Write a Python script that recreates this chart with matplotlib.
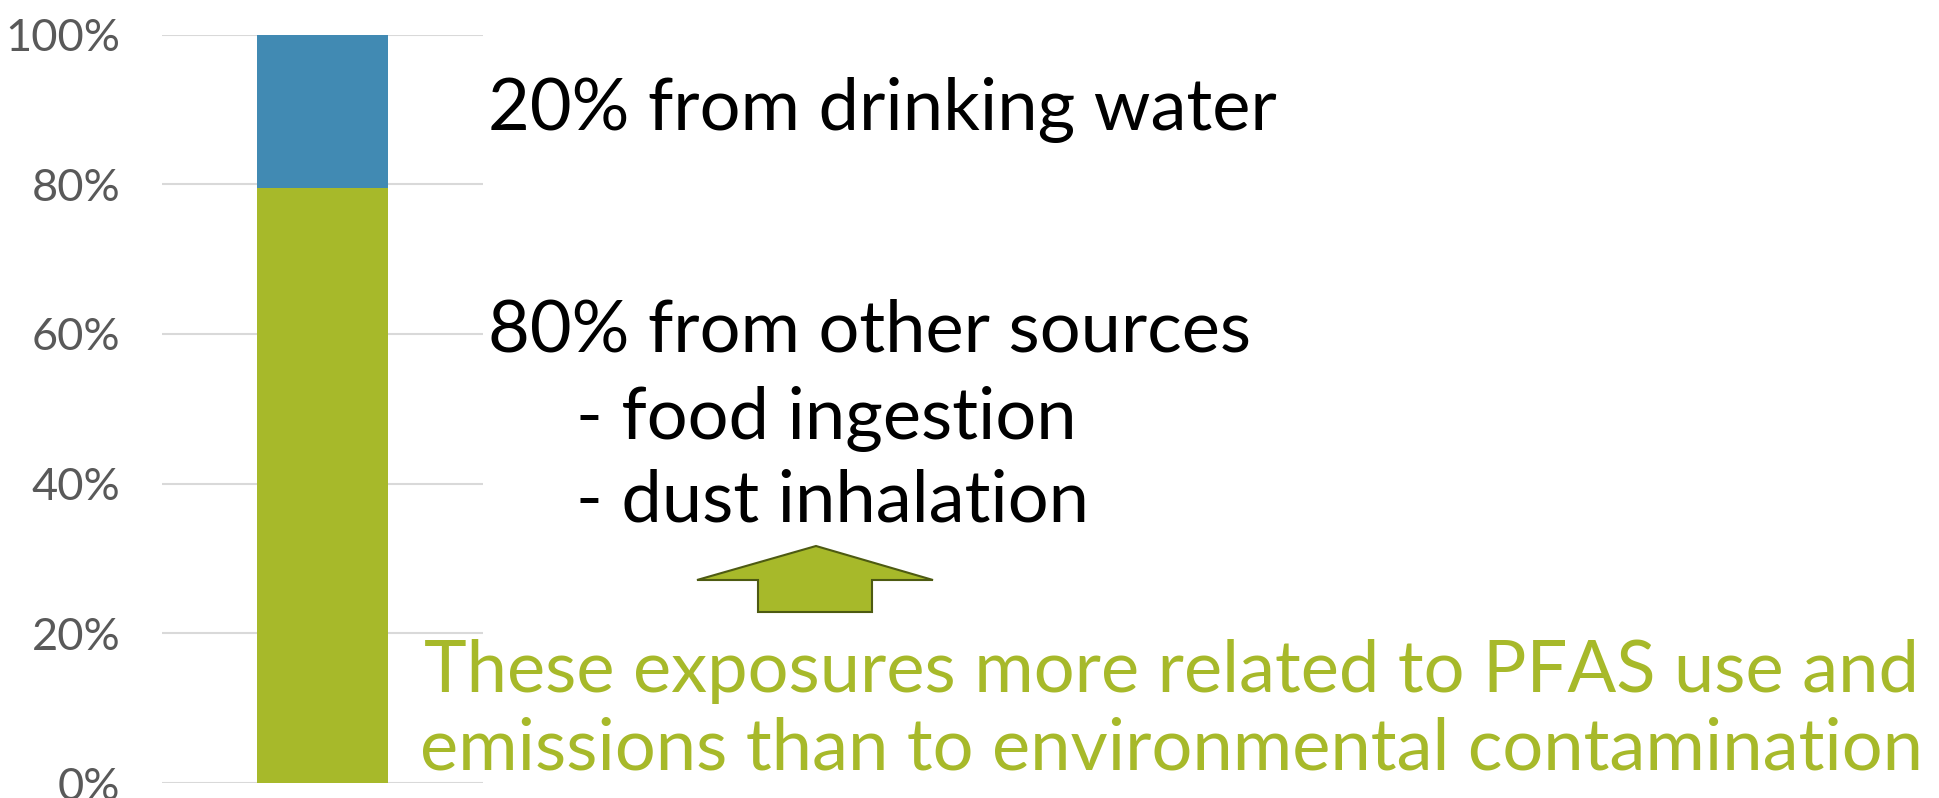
import matplotlib
matplotlib.use("Agg")
import matplotlib.pyplot as plt
from matplotlib.patches import Polygon
from matplotlib.ticker import PercentFormatter

# data
category = [""]
other_sources = [79.5]
drinking_water = [20.5]
yticks = [0, 20, 40, 60, 80, 100]

green = "#a7b92a"
blue = "#418ab3"

plt.rcParams["font.family"] = ["Lato", "DejaVu Sans"]

W, H = 1939, 798
fig = plt.figure(figsize=(W / 100, H / 100), dpi=100)
ax = fig.add_axes([162 / W, 1 - 783 / H, (483 - 162) / W, (783 - 34.6) / H])

ax.bar(category, other_sources, width=0.405, color=green, zorder=3)
ax.bar(category, drinking_water, bottom=other_sources, width=0.405, color=blue, zorder=3)

ax.set_xlim(-0.5, 0.5)
ax.set_ylim(0, 100)
ax.set_yticks(yticks)
ax.yaxis.set_major_formatter(PercentFormatter(decimals=0))
ax.tick_params(axis="y", length=0, pad=30, labelsize=32.5, labelcolor="#595959")
ax.set_xticks([])
ax.grid(axis="y", color="#d9d9d9", linewidth=1.5, zorder=0)
for s in ax.spines.values():
    s.set_visible(False)

# annotations (figure pixel positions -> fractions)
def fx(px):
    return px / W

def fy(py):
    return 1 - py / H

fs = 52
fig.text(fx(488), fy(130), "20% from drinking water", fontsize=fs, color="black", va="baseline")
fig.text(fx(488), fy(352), "80% from other sources", fontsize=fs, color="black", va="baseline")
fig.text(fx(576), fy(439), "- food ingestion", fontsize=fs, color="black", va="baseline")
fig.text(fx(576), fy(522), "- dust inhalation", fontsize=fs, color="black", va="baseline")
fig.text(fx(424), fy(692), "These exposures more related to PFAS use and", fontsize=fs, color=green, va="baseline")
fig.text(fx(420), fy(769), "emissions than to environmental contamination", fontsize=fs, color=green, va="baseline")

# block arrow pointing up
arrow_px = [(816, 546), (933, 580), (872, 580), (872, 612), (758, 612), (758, 580), (697, 580)]
arrow = Polygon([(fx(x), fy(y)) for x, y in arrow_px], closed=True, transform=fig.transFigure,
                facecolor=green, edgecolor="#4d5a12", linewidth=1.5)
fig.patches.append(arrow)

fig.savefig("out.png", dpi=100)
